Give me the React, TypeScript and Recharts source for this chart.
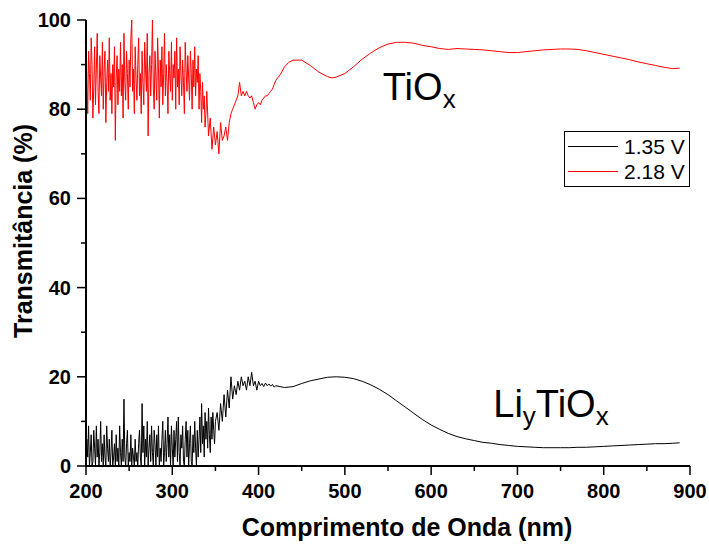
import { Label, Legend, Line, LineChart, ReferenceDot, XAxis, YAxis } from "recharts";

const FONT = "'Liberation Sans', Arial, sans-serif";

// 1.35 V sample (black)
const wl135 = [
  200, 201, 202, 203, 204, 205, 206, 207, 208, 209, 210, 211, 212, 213, 214, 215, 216, 217, 218, 219,
  220, 221, 222, 223, 224, 225, 226, 227, 228, 229, 230, 231, 232, 233, 234, 235, 236, 237, 238, 239,
  240, 241, 242, 243, 244, 245, 246, 247, 248, 249, 250, 251, 252, 253, 254, 255, 256, 257, 258, 259,
  260, 261, 262, 263, 264, 265, 266, 267, 268, 269, 270, 271, 272, 273, 274, 275, 276, 277, 278, 279,
  280, 281, 282, 283, 284, 285, 286, 287, 288, 289, 290, 291, 292, 293, 294, 295, 296, 297, 298, 299,
  300, 301, 302, 303, 304, 305, 306, 307, 308, 309, 310, 311, 312, 313, 314, 315, 316, 317, 318, 319,
  320, 321, 322, 323, 324, 325, 326, 327, 328, 329, 330, 331, 332, 333, 334, 335, 336, 337, 338, 339,
  340, 341, 342, 343, 344, 345, 346, 347, 348, 349, 350,
  352, 354, 356, 358, 360, 362, 364, 366, 368, 370, 372, 374, 376, 378, 380, 382, 384, 386, 388, 390,
  392, 394, 396, 398, 400, 402, 404, 406, 408, 410, 412, 414, 416, 418, 420,
  430, 440, 450, 460, 470, 480, 490, 500, 510, 520, 530, 540, 550, 560, 570, 580, 590, 600, 610, 620,
  630, 640, 650, 660, 670, 680, 690, 700, 710, 720, 730, 740, 750, 760, 770, 780, 790, 800, 810, 820,
  830, 840, 850, 860, 870, 880, 888,
];
const t135 = [
  0, 6, 2, 9, 0, 3, 7, 0, 1, 8, 4, 0, 9, 2, 6, 0, 3, 10, 1, 5,
  0, 7, 2, 0, 9, 4, 1, 6, 0, 3, 8, 0, 2, 5, 0, 7, 1, 4, 0, 9,
  3, 0, 6, 1, 15, 2, 0, 5, 8, 0, 3, 1, 7, 0, 4, 2, 0, 6, 1, 3,
  0, 5, 8, 2, 0, 14, 3, 9, 0, 6, 2, 10, 0, 4, 7, 1, 9, 3, 0, 8,
  5, 0, 7, 2, 9, 0, 4, 1, 6, 10, 0, 3, 8, 1, 5, 11, 2, 7, 0, 9,
  4, 0, 8, 2, 6, 10, 1, 11, 3, 0, 7, 4, 9, 1, 0, 6, 10, 2, 8, 0,
  5, 9, 1, 0, 7, 3, 10, 4, 0, 8, 2, 6, 11, 3, 14, 5, 9, 2, 12, 6,
  10, 4, 13, 7, 3, 11, 6, 12, 8, 5, 10,
  12, 8, 14, 10, 16, 11, 17, 13, 20, 15, 18, 16, 19, 17, 20, 18, 19, 17, 20, 18,
  21, 18, 19, 17, 19, 18, 18.5, 17.8, 18.6, 18, 18.4, 17.9, 18.3, 17.7, 18,
  17.6, 17.8, 18.5, 19.1, 19.5, 19.9, 20, 19.9, 19.6, 19, 18.2, 17.2, 16, 14.6, 13.2, 11.8, 10.4, 9.2, 8.2, 7.3,
  6.6, 6.1, 5.7, 5.3, 5.1, 4.8, 4.6, 4.4, 4.3, 4.2, 4.1, 4.1, 4.1, 4.1, 4.2, 4.2, 4.3, 4.4, 4.5, 4.6,
  4.7, 4.8, 4.9, 5, 5, 5.1, 5.2,
];

// 2.18 V sample (red)
const wl218 = [
  200, 201, 202, 203, 204, 205, 206, 207, 208, 209, 210, 211, 212, 213, 214, 215, 216, 217, 218, 219,
  220, 221, 222, 223, 224, 225, 226, 227, 228, 229, 230, 231, 232, 233, 234, 235, 236, 237, 238, 239,
  240, 241, 242, 243, 244, 245, 246, 247, 248, 249, 250, 251, 252, 253, 254, 255, 256, 257, 258, 259,
  260, 261, 262, 263, 264, 265, 266, 267, 268, 269, 270, 271, 272, 273, 274, 275, 276, 277, 278, 279,
  280, 281, 282, 283, 284, 285, 286, 287, 288, 289, 290, 291, 292, 293, 294, 295, 296, 297, 298, 299,
  300, 301, 302, 303, 304, 305, 306, 307, 308, 309, 310, 311, 312, 313, 314, 315, 316, 317, 318, 319,
  320, 321, 322, 323, 324, 325, 326, 327, 328, 329, 330, 331, 332, 333, 334, 335, 336, 337, 338, 339,
  340, 342, 344, 346, 348, 350, 352, 354, 356, 358, 360, 362, 364, 366, 368, 370, 372, 374, 376, 378,
  380, 382, 384, 386, 388, 390, 392, 394, 396, 398, 400, 402, 404, 406, 408, 410, 412, 414, 416, 418,
  420, 425, 430, 435, 440, 450, 460, 470, 480, 485, 490, 500, 510, 520, 530, 540, 550, 560, 570, 580,
  590, 600, 610, 620, 630, 640, 650, 660, 670, 680, 690, 700, 710, 720, 730, 740, 750, 760, 770, 780,
  790, 800, 810, 820, 830, 840, 850, 860, 870, 880, 888,
];
const t218 = [
  100, 86, 79, 93, 88, 82, 96, 90, 78, 85, 94, 81, 89, 97, 84, 79, 92, 87, 83, 95,
  80, 89, 93, 77, 86, 91, 84, 96, 82, 88, 79, 90, 85, 94, 73, 87, 92, 81, 89, 84,
  95, 83, 90, 78, 97, 86, 82, 93, 88, 80, 91, 85, 96, 100, 84, 89, 79, 94, 87, 82,
  90, 96, 83, 88, 79, 93, 86, 81, 95, 89, 84, 97, 74, 88, 92, 83, 90, 100, 85, 80,
  93, 87, 82, 96, 89, 78, 91, 85, 94, 81, 88, 97, 83, 90, 86, 79, 93, 88, 84, 95,
  82, 90, 87, 93, 80, 96, 85, 89, 81, 94, 88, 83, 91, 86, 79, 95, 89, 84, 92, 87,
  82, 93, 88, 80, 91, 85, 94, 83, 89, 86, 92, 80, 88, 84, 77, 86, 80, 83, 76, 79,
  84, 74, 78, 71, 76, 72, 75, 70, 77, 73, 74, 76, 73, 77, 79, 80, 81, 82, 83, 86,
  83, 84, 83, 84, 83, 82.5, 83, 81.5, 80, 81, 81.5, 81, 82, 82.5, 83, 83, 83.5, 84, 84.5, 85.5,
  86.5, 87.7, 89.5, 90.5, 91, 91, 89.8, 88.3, 87.3, 87, 87.2, 88, 89.5, 91.2, 92.6, 93.8, 94.6, 95, 95, 94.8,
  94.3, 94, 93.6, 93.4, 93.6, 93.5, 93.4, 93.3, 93.1, 92.9, 92.7, 92.7, 92.9, 93.1, 93.3, 93.4, 93.5, 93.5, 93.4, 93.1,
  92.7, 92.3, 91.9, 91.5, 91.1, 90.6, 90.2, 89.8, 89.4, 89.1, 89.2,
];

const xTicks = [200, 250, 300, 350, 400, 450, 500, 550, 600, 650, 700, 750, 800, 850, 900];
const yTicks = [0, 10, 20, 30, 40, 50, 60, 70, 80, 90, 100];

const series = [
  { name: "1.35 V", color: "#000000", data: wl135.map((x, i) => ({ x, y: t135[i] })) },
  { name: "2.18 V", color: "#ff0000", data: wl218.map((x, i) => ({ x, y: t218[i] })) },
];

function XTick({ x, y, payload }: any) {
  const major = payload.value % 100 === 0;
  return (
    <g>
      <line x1={x} x2={x} y1={y} y2={y + (major ? 9 : 5)} stroke="#000" strokeWidth={1.5} />
      {major && (
        <text x={x} y={y + 32} textAnchor="middle" fontSize={20} fontWeight="bold" fontFamily={FONT} fill="#000">
          {payload.value}
        </text>
      )}
    </g>
  );
}

function YTick({ x, y, payload }: any) {
  const major = payload.value % 20 === 0;
  return (
    <g>
      <line x1={x - (major ? 9 : 5)} x2={x} y1={y} y2={y} stroke="#000" strokeWidth={1.5} />
      {major && (
        <text x={x - 15} y={y + 7} textAnchor="end" fontSize={20} fontWeight="bold" fontFamily={FONT} fill="#000">
          {payload.value}
        </text>
      )}
    </g>
  );
}

function SampleLabel({ viewBox, main, pre }: any) {
  return (
    <text x={viewBox.x} y={viewBox.y} fontFamily={FONT} fontSize={38} fill="#000">
      {pre && <tspan>{pre}</tspan>}
      {pre && (
        <tspan fontSize={26} dy={8}>
          y
        </tspan>
      )}
      <tspan dy={pre ? -8 : 0}>{main}</tspan>
      <tspan fontSize={26} dy={8}>
        x
      </tspan>
    </text>
  );
}

function LegendBox() {
  return (
    <div
      style={{
        border: "1px solid #000",
        background: "#fff",
        width: 124,
        padding: "2px 0",
        fontFamily: FONT,
        fontSize: 21,
        lineHeight: 1,
      }}
    >
      {series.map((s) => (
        <div key={s.name} style={{ display: "flex", alignItems: "center", height: 25 }}>
          <span style={{ width: 50, height: 1, background: s.color, marginLeft: 3, marginRight: 6, flexShrink: 0 }} />
          <span style={{ whiteSpace: "nowrap" }}>{s.name}</span>
        </div>
      ))}
    </div>
  );
}

export default function App() {
  return (
    <div style={{ position: "absolute", left: 0, top: 0, background: "#fff" }}>
      <LineChart width={709} height={545} margin={{ top: 20, right: 19, left: 0, bottom: 0 }}>
        <XAxis
          dataKey="x"
          type="number"
          domain={[200, 900]}
          ticks={xTicks}
          tick={<XTick />}
          tickLine={false}
          tickSize={0}
          tickMargin={0}
          height={79}
          axisLine={{ stroke: "#000", strokeWidth: 2 }}
          allowDataOverflow
        >
          <Label
            content={({ viewBox }: any) => (
              <text
                x={viewBox.x + viewBox.width / 2 + 19}
                y={viewBox.y + 70}
                textAnchor="middle"
                fontSize={25}
                fontWeight="bold"
                fontFamily={FONT}
                fill="#000"
              >
                Comprimento de Onda (nm)
              </text>
            )}
          />
        </XAxis>
        <XAxis
          xAxisId="top"
          orientation="top"
          type="number"
          domain={[200, 900]}
          height={0}
          tick={false}
          tickLine={false}
          axisLine={{ stroke: "#000", strokeWidth: 2 }}
        />
        <YAxis
          type="number"
          domain={[0, 100]}
          ticks={yTicks}
          tick={<YTick />}
          tickLine={false}
          tickSize={0}
          tickMargin={0}
          width={86}
          axisLine={{ stroke: "#000", strokeWidth: 2 }}
          allowDataOverflow
        >
          <Label
            content={({ viewBox }: any) => {
              const cx = viewBox.x + 23;
              const cy = viewBox.y + viewBox.height / 2 - 12;
              return (
                <text
                  x={cx}
                  y={cy}
                  transform={`rotate(-90 ${cx} ${cy})`}
                  textAnchor="middle"
                  dominantBaseline="central"
                  fontSize={25}
                  fontWeight="bold"
                  fontFamily={FONT}
                  fill="#000"
                >
                  Transmitância (%)
                </text>
              );
            }}
          />
        </YAxis>
        <YAxis
          yAxisId="right"
          orientation="right"
          type="number"
          domain={[0, 100]}
          width={0}
          tick={false}
          tickLine={false}
          axisLine={{ stroke: "#000", strokeWidth: 2 }}
        />
        <Legend
          layout="vertical"
          align="center"
          verticalAlign="middle"
          content={() => <LegendBox />}
          wrapperStyle={{ position: "absolute", left: 564, top: 131, width: 126 }}
        />
        {series.map((s) => (
          <Line
            key={s.name}
            data={s.data}
            dataKey="y"
            name={s.name}
            type="linear"
            stroke={s.color}
            strokeWidth={1}
            dot={false}
            activeDot={false}
            isAnimationActive={false}
          />
        ))}
        <ReferenceDot
          x={544}
          y={82}
          r={0}
          fill="none"
          stroke="none"
          label={(p: any) => <SampleLabel viewBox={p.viewBox} main="TiO" />}
        />
        <ReferenceDot
          x={672}
          y={11}
          r={0}
          fill="none"
          stroke="none"
          label={(p: any) => <SampleLabel viewBox={p.viewBox} pre="Li" main="TiO" />}
        />
      </LineChart>
    </div>
  );
}
